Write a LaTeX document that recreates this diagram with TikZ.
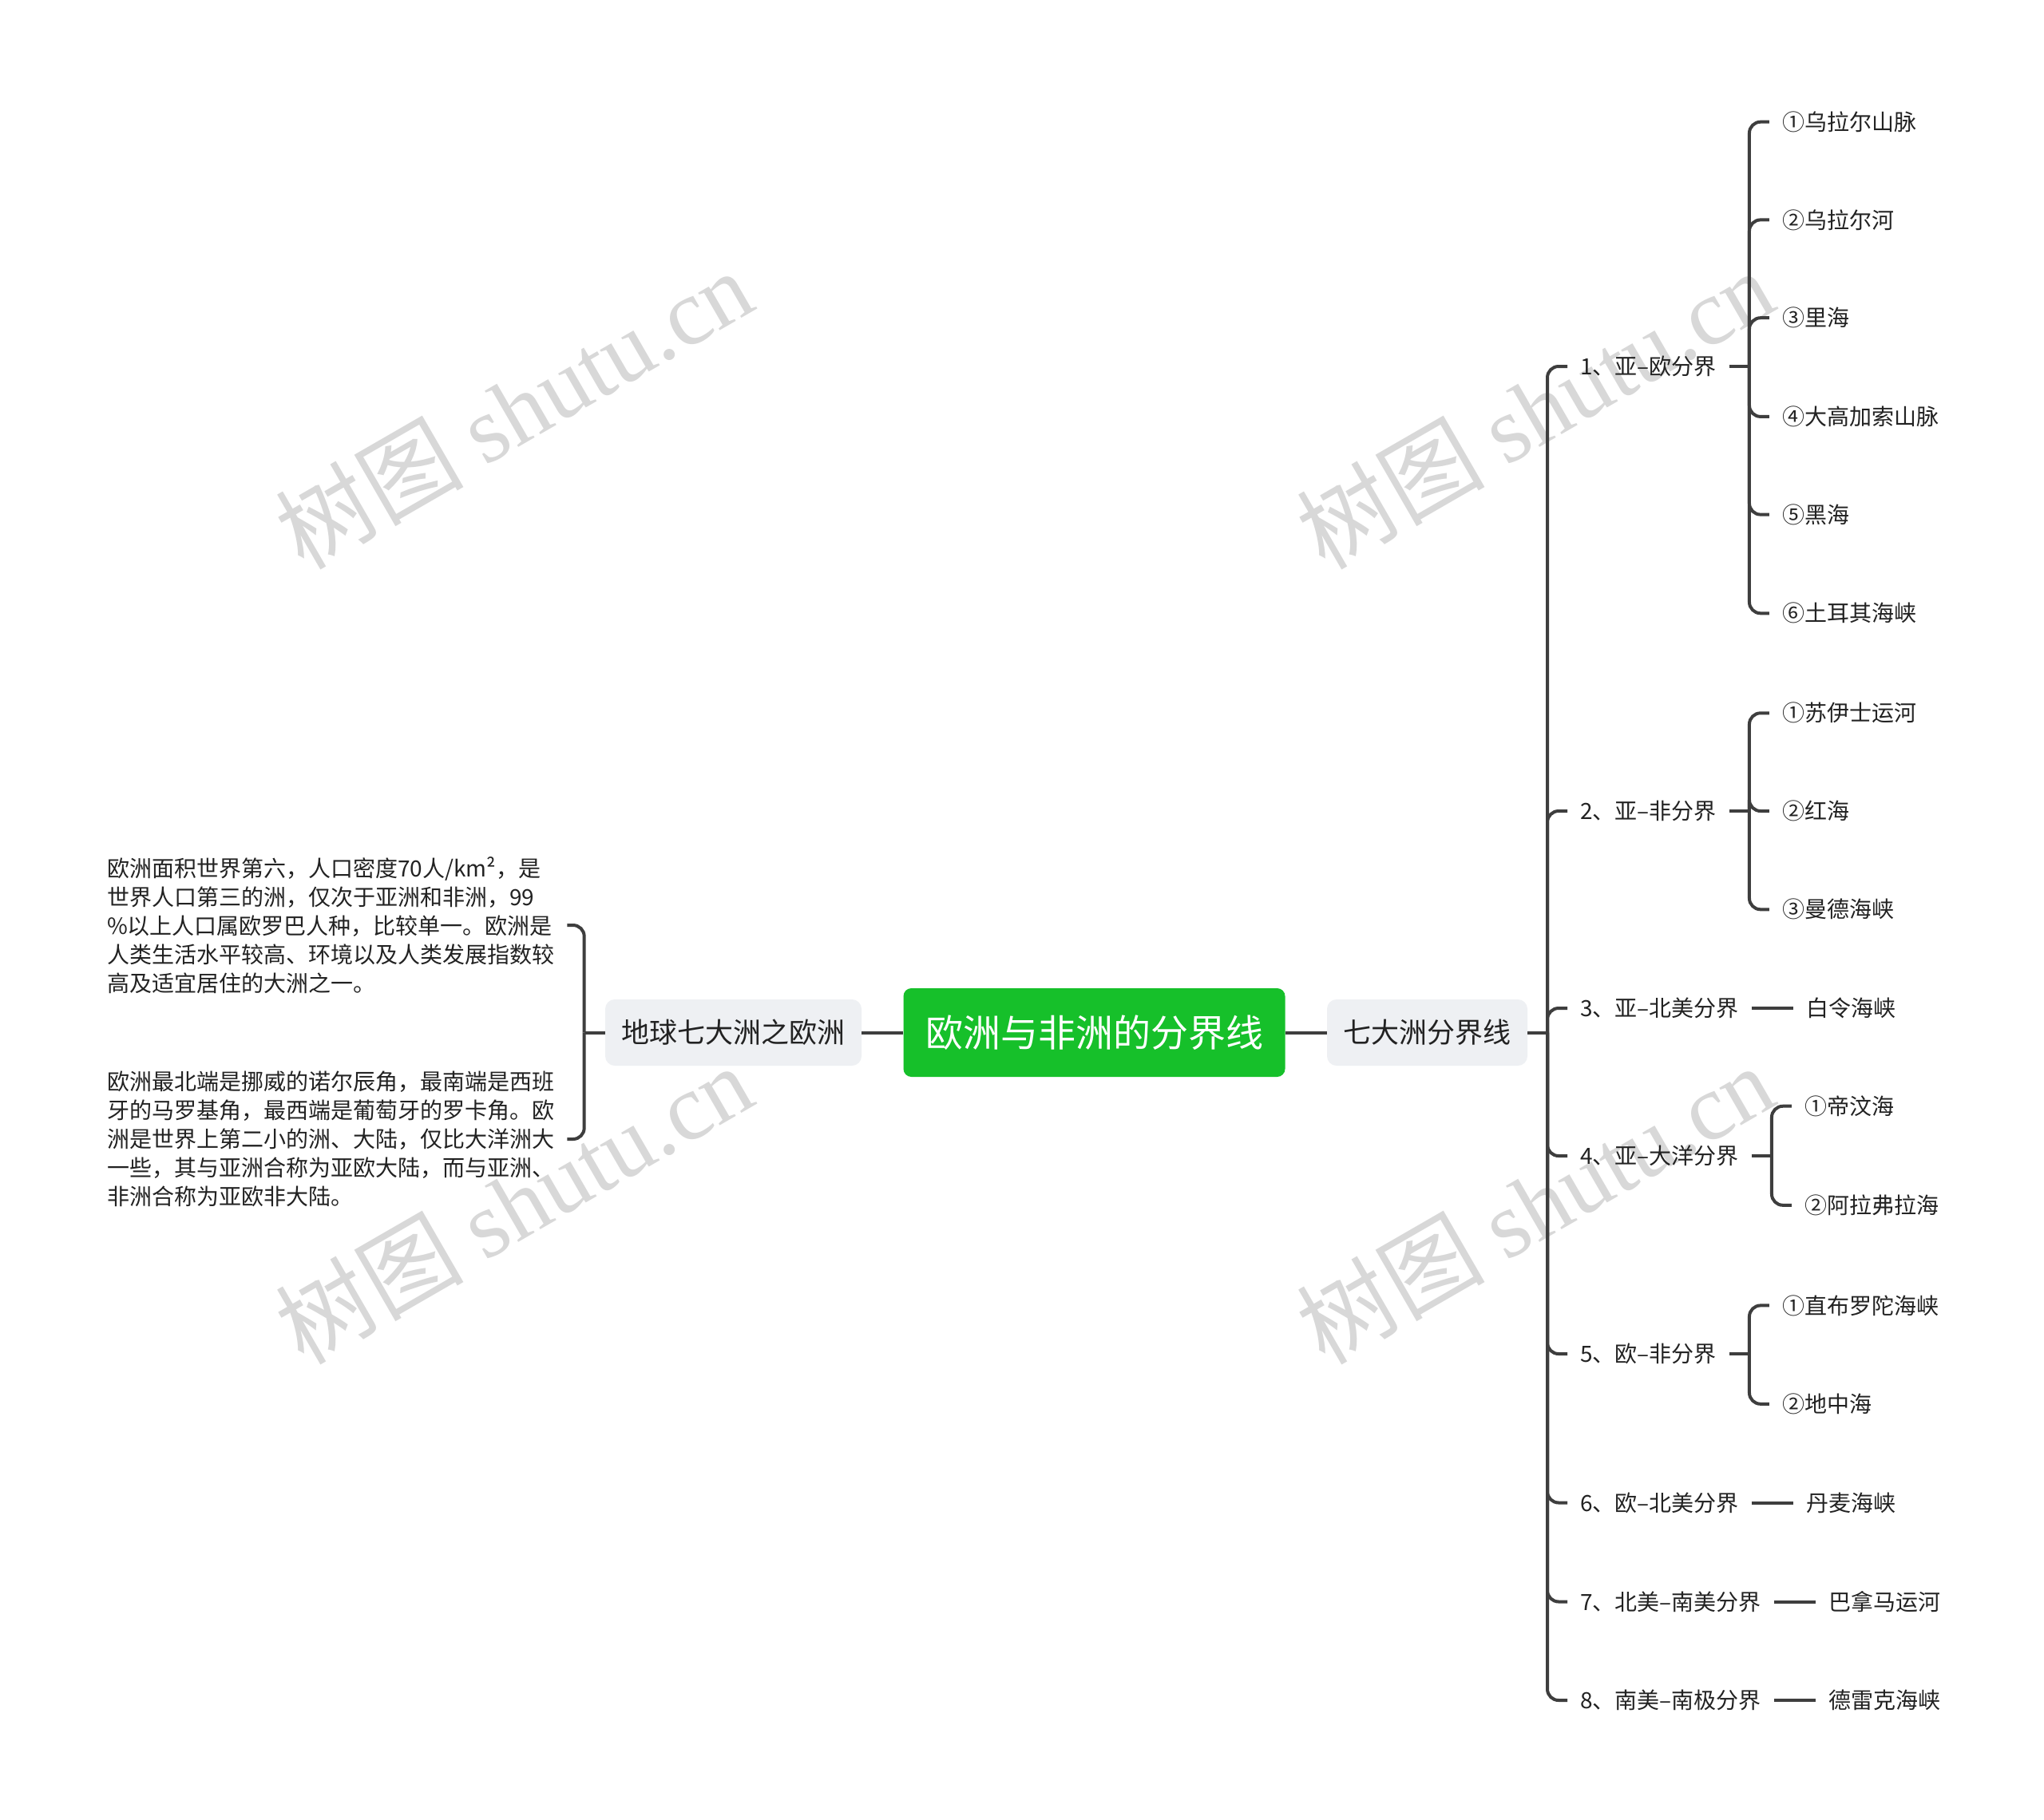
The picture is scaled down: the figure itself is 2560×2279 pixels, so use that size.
\documentclass[tikz,border=0pt]{standalone}
\usepackage{fontspec}
\setmainfont{Noto Sans CJK SC}
\newfontfamily\wmlatin{Liberation Serif}
\usetikzlibrary{calc}
\definecolor{lineC}{RGB}{62,62,62}
\definecolor{greenC}{RGB}{22,192,42}
\definecolor{boxC}{RGB}{238,240,243}
\definecolor{txtC}{RGB}{34,34,34}
\definecolor{wmC}{RGB}{216,216,216}
\begin{document}
\begin{tikzpicture}[x=1pt,y=-1pt,
  conn/.style={draw=lineC, line width=4pt, rounded corners=14pt},
  lbl/.style={anchor=west, inner xsep=16pt, inner ysep=0pt, text=txtC,
    font=\fontsize{28}{36}\selectfont, text height=24.6pt, text depth=3.4pt},
  para/.style={anchor=west, align=left, inner xsep=16pt, inner ysep=0pt, text=txtC,
    font=\fontsize{28}{36}\selectfont},
  rootbox/.style={fill=greenC, rounded corners=10pt, minimum width=478pt,
    minimum height=111pt, inner sep=0pt, text=white,
    font=\fontsize{47}{50}\selectfont, text height=41.4pt, text depth=5.6pt},
  subbox/.style={fill=boxC, rounded corners=12pt, minimum height=83pt,
    inner sep=0pt, text=txtC, font=\fontsize{35}{40}\selectfont,
    text height=30.8pt, text depth=4.2pt},
  wm/.style={text=wmC, rotate=30, inner sep=0pt, font=\fontsize{118}{118}\selectfont}
]
\useasboundingbox[fill=white] (0,0) rectangle (2560,2279);

% watermarks
\node[wm] (w1) at (643,512) {树图 {\wmlatin shutu.cn}};
\node[wm] (w2) at (1922,512) {树图 {\wmlatin shutu.cn}};
\node[wm] (w3) at (643,1508) {树图 {\wmlatin shutu.cn}};
\node[wm] (w4) at (1922,1508) {树图 {\wmlatin shutu.cn}};

% central nodes
\node[rootbox] (root) at (1370.5,1293.5) {欧洲与非洲的分界线};
\node[subbox, minimum width=251pt] (R) at (1787.5,1293.5) {七大洲分界线};
\node[subbox, minimum width=321pt] (L) at (918.5,1293.5) {地球七大洲之欧洲};
\draw[conn] (root.east) -- (R.west);
\draw[conn] (root.west) -- (L.east);

% left side
\coordinate (LJ) at (731.7,1293.5);
\node[para] (p1) at (118,1159) {欧洲面积世界第六，人口密度70人/km²，是\\%
世界人口第三的洲，仅次于亚洲和非洲，99\\%
\%以上人口属欧罗巴人种，比较单一。欧洲是\\%
人类生活水平较高、环境以及人类发展指数较\\%
高及适宜居住的大洲之一。};
\node[para] (p2) at (118,1427) {欧洲最北端是挪威的诺尔辰角，最南端是西班\\%
牙的马罗基角，最西端是葡萄牙的罗卡角。欧\\%
洲是世界上第二小的洲、大陆，仅比大洋洲大\\%
一些，其与亚洲合称为亚欧大陆，而与亚洲、\\%
非洲合称为亚欧非大陆。};
\draw[conn] (L.west) -- (LJ);
\draw[conn] (LJ) |- (p1.east);
\draw[conn] (LJ) |- (p2.east);

% right side trunk
\coordinate (T) at (1938,1293.5);
\draw[conn] (R.east) -- (T);
\node[lbl] (b1) at (1963,459) {1、亚–欧分界};
\node[lbl] (b2) at (1963,1016) {2、亚–非分界};
\node[lbl] (b3) at (1963,1263) {3、亚–北美分界};
\node[lbl] (b4) at (1963,1448) {4、亚–大洋分界};
\node[lbl] (b5) at (1963,1696) {5、欧–非分界};
\node[lbl] (b6) at (1963,1882.5) {6、欧–北美分界};
\node[lbl] (b7) at (1963,2006.5) {7、北美–南美分界};
\node[lbl] (b8) at (1963,2130) {8、南美–南极分界};
\foreach \i in {1,...,8} {\draw[conn] (T) |- (b\i.west);}

% branch 1
\path (b1.east) ++(25,0) coordinate (j1) ++(25,0) coordinate (k1);
\node[lbl] (i11) at (k1 |- 0,152.7) {①乌拉尔山脉};
\node[lbl] (i12) at (k1 |- 0,275.4) {②乌拉尔河};
\node[lbl] (i13) at (k1 |- 0,398.2) {③里海};
\node[lbl] (i14) at (k1 |- 0,521.9) {④大高加索山脉};
\node[lbl] (i15) at (k1 |- 0,644.6) {⑤黑海};
\node[lbl] (i16) at (k1 |- 0,768.3) {⑥土耳其海峡};
\draw[conn] (b1.east) -- (j1);
\foreach \k in {1,...,6} {\draw[conn] (j1) |- (i1\k.west);}

% branch 2
\path (b2.east) ++(25,0) coordinate (j2) ++(25,0) coordinate (k2);
\node[lbl] (i21) at (k2 |- 0,893.3) {①苏伊士运河};
\node[lbl] (i22) at (k2 |- 0,1016) {②红海};
\node[lbl] (i23) at (k2 |- 0,1139.3) {③曼德海峡};
\draw[conn] (b2.east) -- (j2);
\foreach \k in {1,...,3} {\draw[conn] (j2) |- (i2\k.west);}

% branch 3
\node[lbl] (c3) at ($(b3.east)+(52,0)$) {白令海峡};
\draw[conn] (b3.east) -- (c3.west);

% branch 4
\path (b4.east) ++(25,0) coordinate (j4) ++(25,0) coordinate (k4);
\node[lbl] (i41) at (k4 |- 0,1385.7) {①帝汶海};
\node[lbl] (i42) at (k4 |- 0,1509.8) {②阿拉弗拉海};
\draw[conn] (b4.east) -- (j4);
\foreach \k in {1,2} {\draw[conn] (j4) |- (i4\k.west);}

% branch 5
\path (b5.east) ++(25,0) coordinate (j5) ++(25,0) coordinate (k5);
\node[lbl] (i51) at (k5 |- 0,1635.4) {①直布罗陀海峡};
\node[lbl] (i52) at (k5 |- 0,1758.8) {②地中海};
\draw[conn] (b5.east) -- (j5);
\foreach \k in {1,2} {\draw[conn] (j5) |- (i5\k.west);}

% branches 6-8
\node[lbl] (c6) at ($(b6.east)+(52,0)$) {丹麦海峡};
\draw[conn] (b6.east) -- (c6.west);
\node[lbl] (c7) at ($(b7.east)+(52,0)$) {巴拿马运河};
\draw[conn] (b7.east) -- (c7.west);
\node[lbl] (c8) at ($(b8.east)+(52,0)$) {德雷克海峡};
\draw[conn] (b8.east) -- (c8.west);
\end{tikzpicture}
\end{document}
